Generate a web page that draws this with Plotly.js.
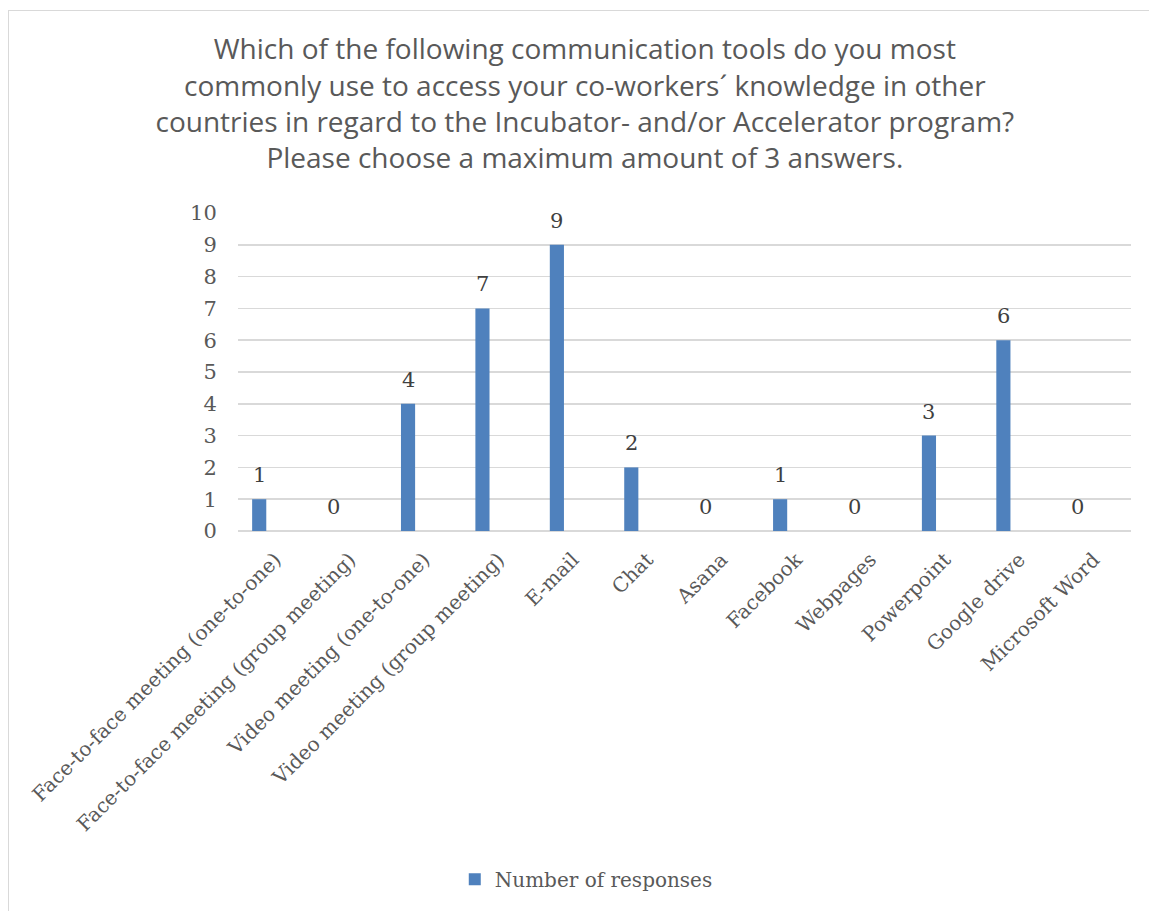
<!DOCTYPE html>
<html>
<head>
<meta charset="utf-8">
<script src="https://cdn.plot.ly/plotly-3.0.1.min.js"></script>
<style>
  html, body { margin: 0; padding: 0; background: #fff; }
  #wrap { position: relative; width: 1149px; height: 911px; }
  #chart { position: absolute; left: 0; top: 0; width: 1149px; height: 911px; }
  #frame { position: absolute; left: 8px; top: 10px; width: 1150px; height: 910px;
           border: 1.5px solid #d9d9d9; pointer-events: none; box-sizing: border-box; }
</style>
</head>
<body>
<div id="wrap"><div id="chart"></div><div id="frame"></div></div>
<script>
const categories = [
  "Face-to-face meeting (one-to-one)",
  "Face-to-face meeting (group meeting)",
  "Video meeting (one-to-one)",
  "Video meeting (group meeting)",
  "E-mail",
  "Chat",
  "Asana",
  "Facebook",
  "Webpages",
  "Powerpoint",
  "Google drive",
  "Microsoft Word"
];
const responses = [1, 0, 4, 7, 9, 2, 0, 1, 0, 3, 6, 0];
const seriesName = "Number of responses";
const titleText = "Which of the following communication tools do you most<br>commonly use to access your co-workers´ knowledge in other<br>countries in regard to the Incubator- and/or Accelerator program?<br>Please choose a maximum amount of 3 answers.";

const serif = "DejaVu Serif, Liberation Serif, serif";
const textColor = "#595959";

const trace = {
  type: "bar",
  x: categories,
  y: responses,
  name: seriesName,
  showlegend: true,
  marker: { color: "#4F81BD" },
  width: 0.19,
  offset: -0.31,
  hoverinfo: "none"
};

const labelAnnotations = categories.map((c, i) => ({
  x: c, y: responses[i], xref: "x", yref: "y",
  text: String(responses[i]),
  showarrow: false,
  xanchor: "center", yanchor: "middle",
  xshift: -16, yshift: 24,
  font: { family: serif, size: 21, color: "#404040" }
}));

const layout = {
  width: 1149,
  height: 911,
  paper_bgcolor: "#ffffff",
  plot_bgcolor: "#ffffff",
  margin: { l: 238, r: 18, t: 213, b: 380 },
  title: {
    text: titleText,
    font: { family: "Open Sans, Noto Sans, sans-serif", size: 28, color: textColor },
    x: 0.509, xanchor: "center",
    y: 0.935, yanchor: "top", yref: "container"
  },
  xaxis: {
    type: "category",
    range: [-0.5, 11.5],
    tickangle: -45,
    tickfont: { family: serif, size: 20, color: textColor },
    showgrid: false,
    showline: false,
    zeroline: false,
    ticks: "outside",
    ticklen: 8,
    tickcolor: "rgba(0,0,0,0)"
  },
  yaxis: {
    range: [0, 10],
    dtick: 1,
    tick0: 0,
    tickfont: { family: serif, size: 21, color: textColor },
    gridcolor: "#d9d9d9",
    gridwidth: 1.5,
    zeroline: true,
    zerolinecolor: "#d9d9d9",
    zerolinewidth: 1.5,
    showline: false,
    ticks: "outside",
    ticklen: 16,
    tickcolor: "rgba(0,0,0,0)"
  },
  annotations: labelAnnotations,
  legend: {
    orientation: "h",
    x: 0.39, xanchor: "center",
    y: -1.095, yanchor: "middle",
    font: { family: serif, size: 20, color: textColor },
    itemwidth: 30
  },
  bargap: 0.8
};

Plotly.newPlot("chart", [trace], layout, { displayModeBar: false, staticPlot: true });
</script>
</body>
</html>
